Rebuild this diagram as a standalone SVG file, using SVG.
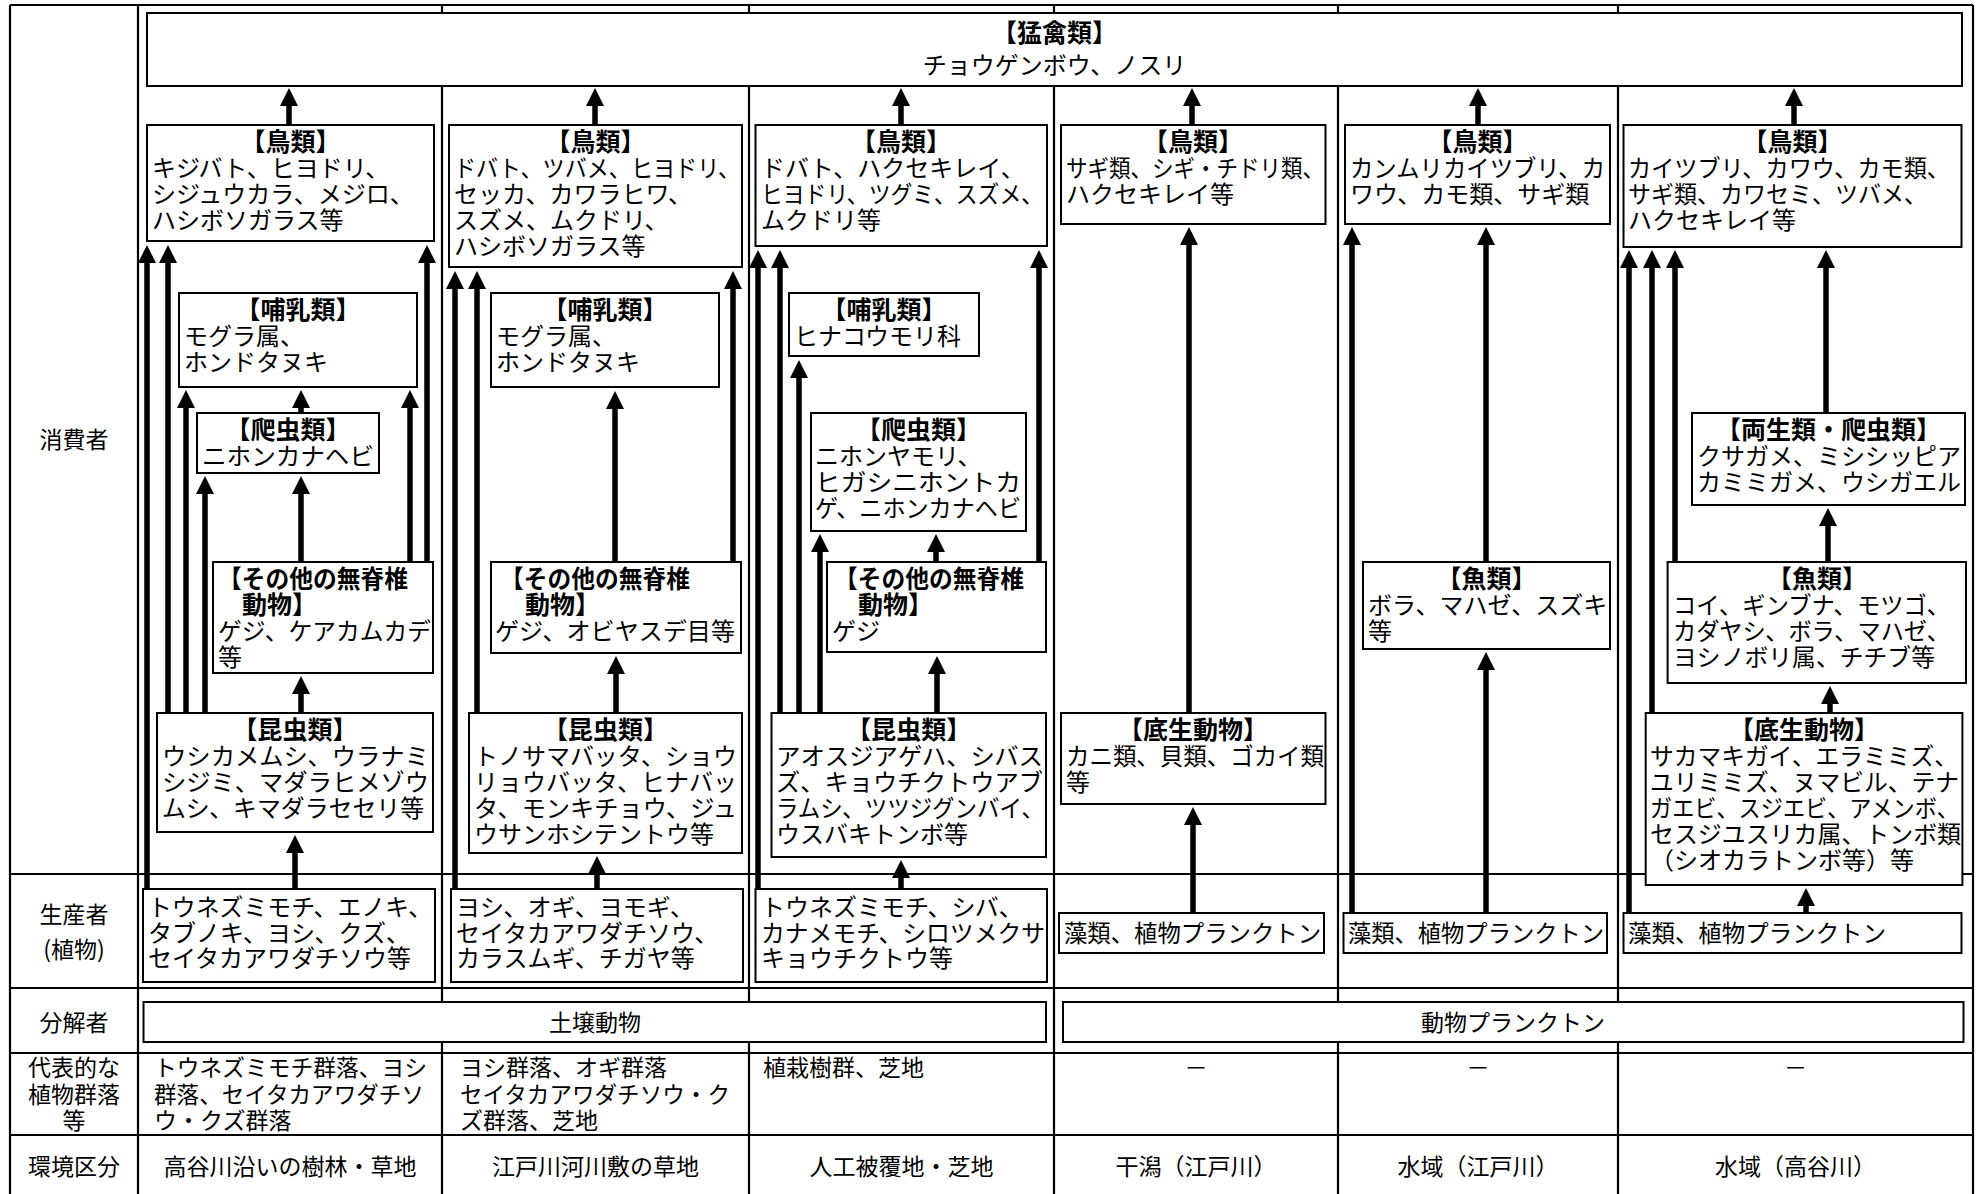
<svg xmlns="http://www.w3.org/2000/svg" width="1982" height="1194" viewBox="0 0 1982 1194">
<style>
.grid{stroke:#000;stroke-width:2.2;fill:none}
.box{fill:#fff;stroke:#000;stroke-width:2}
.t{font-family:"Noto Sans CJK JP","Noto Sans CJK SC",sans-serif;font-size:24px;fill:#000}
.s23{font-size:23px}
.h{font-weight:bold;font-size:25px;text-anchor:middle}
.hl{font-weight:bold;font-size:25px}
.c{text-anchor:middle}
.arr{stroke:#000;stroke-width:5.5;fill:none;marker-end:url(#ah)}
</style>
<defs>
<marker id="ah" markerUnits="userSpaceOnUse" markerWidth="18" markerHeight="18" viewBox="0 0 18 18" refX="0" refY="9" orient="auto"><path d="M0,0 L18,9 L0,18 z" fill="#000"/></marker>
</defs>
<rect width="1982" height="1194" fill="#fff"/>
<g id="grid">
<path class="grid" d="M10,5 V1194 M138,5 V1194 M442,5 V1194 M749,5 V1194 M1054,5 V1194 M1338,5 V1194 M1618,5 V1194 M1973,5 V1194"/>
<path class="grid" d="M10,5 H1973 M10,874 H1973 M10,988 H1973 M10,1053 H1973 M10,1135 H1973"/>
</g>
<g id="row-labels" class="t s23">
<text x="74" y="448" class="c">消費者</text>
<text x="74" y="923" class="c">生産者</text>
<text x="74" y="958" class="c">(植物)</text>
<text x="74" y="1031" class="c">分解者</text>
<text x="74" y="1076" class="c">代表的な</text>
<text x="74" y="1103" class="c">植物群落</text>
<text x="74" y="1129" class="c">等</text>
<text x="74" y="1175" class="c">環境区分</text>
</g>
<g id="raptors"><rect class="box" x="147" y="13" width="1815" height="73"/>
<text class="t h" x="1054.5" y="42">【猛禽類】</text>
<text class="t c" x="1054.5" y="74">チョウゲンボウ、ノスリ</text></g>
<!-- column 1 -->
<g id="c1-bird"><rect class="box" x="147" y="125" width="287" height="116"/>
<text class="t h" x="290.5" y="151">【鳥類】</text>
<text class="t" x="152" y="177">キジバト、ヒヨドリ、</text>
<text class="t" x="152" y="203">シジュウカラ、メジロ、</text>
<text class="t" x="152" y="229">ハシボソガラス等</text></g>
<g id="c1-mammal"><rect class="box" x="179" y="293" width="238" height="94"/>
<text class="t h" x="298" y="319">【哺乳類】</text>
<text class="t" x="184" y="345">モグラ属、</text>
<text class="t" x="184" y="371">ホンドタヌキ</text></g>
<g id="c1-reptile"><rect class="box" x="197" y="413" width="182" height="60"/>
<text class="t h" x="288" y="439">【爬虫類】</text>
<text class="t" x="202" y="465" textLength="172" lengthAdjust="spacingAndGlyphs">ニホンカナヘビ</text></g>
<g id="c1-invert"><rect class="box" x="213" y="562" width="220" height="111"/>
<text class="t hl" x="218" y="588" textLength="190" lengthAdjust="spacingAndGlyphs">【その他の無脊椎</text>
<text class="t hl" x="242" y="614">動物】</text>
<text class="t" x="218" y="640" textLength="213" lengthAdjust="spacingAndGlyphs">ゲジ、ケアカムカデ</text>
<text class="t" x="218" y="666">等</text></g>
<g id="c1-insect"><rect class="box" x="157" y="713" width="276" height="119"/>
<text class="t h" x="295" y="739">【昆虫類】</text>
<text class="t" x="162" y="765" textLength="267" lengthAdjust="spacingAndGlyphs">ウシカメムシ、ウラナミ</text>
<text class="t" x="162" y="791" textLength="267" lengthAdjust="spacingAndGlyphs">シジミ、マダラヒメゾウ</text>
<text class="t" x="162" y="817" textLength="262" lengthAdjust="spacingAndGlyphs">ムシ、キマダラセセリ等</text></g>
<g id="c1-producer"><rect class="box" x="143" y="889" width="292" height="93"/>
<text class="t" x="148" y="916" textLength="284" lengthAdjust="spacingAndGlyphs">トウネズミモチ、エノキ、</text>
<text class="t" x="148" y="942">タブノキ、ヨシ、クズ、</text>
<text class="t" x="148" y="967">セイタカアワダチソウ等</text></g>
<!-- column 2 -->
<g id="c2-bird"><rect class="box" x="449" y="125" width="293" height="142"/>
<text class="t h" x="595.5" y="151">【鳥類】</text>
<text class="t" x="454" y="177" textLength="286" lengthAdjust="spacingAndGlyphs">ドバト、ツバメ、ヒヨドリ、</text>
<text class="t" x="454" y="203">セッカ、カワラヒワ、</text>
<text class="t" x="454" y="229">スズメ、ムクドリ、</text>
<text class="t" x="454" y="255">ハシボソガラス等</text></g>
<g id="c2-mammal"><rect class="box" x="491" y="293" width="228" height="94"/>
<text class="t h" x="605" y="319">【哺乳類】</text>
<text class="t" x="496" y="345">モグラ属、</text>
<text class="t" x="496" y="371">ホンドタヌキ</text></g>
<g id="c2-invert"><rect class="box" x="491" y="562" width="250" height="91"/>
<text class="t hl" x="500" y="588" textLength="190" lengthAdjust="spacingAndGlyphs">【その他の無脊椎</text>
<text class="t hl" x="525" y="614">動物】</text>
<text class="t" x="495" y="640" textLength="240" lengthAdjust="spacingAndGlyphs">ゲジ、オビヤスデ目等</text></g>
<g id="c2-insect"><rect class="box" x="469" y="713" width="273" height="140"/>
<text class="t h" x="605.5" y="739">【昆虫類】</text>
<text class="t" x="474" y="765" textLength="263" lengthAdjust="spacingAndGlyphs">トノサマバッタ、ショウ</text>
<text class="t" x="474" y="791" textLength="263" lengthAdjust="spacingAndGlyphs">リョウバッタ、ヒナバッ</text>
<text class="t" x="474" y="817" textLength="263" lengthAdjust="spacingAndGlyphs">タ、モンキチョウ、ジュ</text>
<text class="t" x="474" y="843">ウサンホシテントウ等</text></g>
<g id="c2-producer"><rect class="box" x="451" y="889" width="292" height="93"/>
<text class="t" x="456" y="916">ヨシ、オギ、ヨモギ、</text>
<text class="t" x="456" y="942">セイタカアワダチソウ、</text>
<text class="t" x="456" y="967">カラスムギ、チガヤ等</text></g>
<!-- column 3 -->
<g id="c3-bird"><rect class="box" x="755.5" y="125" width="291.5" height="121"/>
<text class="t h" x="901" y="151">【鳥類】</text>
<text class="t" x="761" y="177">ドバト、ハクセキレイ、</text>
<text class="t" x="761" y="203" textLength="282" lengthAdjust="spacingAndGlyphs">ヒヨドリ、ツグミ、スズメ、</text>
<text class="t" x="761" y="229">ムクドリ等</text></g>
<g id="c3-mammal"><rect class="box" x="789" y="293" width="190" height="63"/>
<text class="t h" x="884" y="319">【哺乳類】</text>
<text class="t" x="794" y="345">ヒナコウモリ科</text></g>
<g id="c3-reptile"><rect class="box" x="811" y="413" width="215" height="118"/>
<text class="t h" x="918.5" y="439">【爬虫類】</text>
<text class="t" x="815" y="465">ニホンヤモリ、</text>
<text class="t" x="815" y="491" textLength="206" lengthAdjust="spacingAndGlyphs">ヒガシニホントカ</text>
<text class="t" x="815" y="517" textLength="206" lengthAdjust="spacingAndGlyphs">ゲ、ニホンカナヘビ</text></g>
<g id="c3-invert"><rect class="box" x="827" y="562" width="219" height="90"/>
<text class="t hl" x="834" y="588" textLength="190" lengthAdjust="spacingAndGlyphs">【その他の無脊椎</text>
<text class="t hl" x="858" y="614">動物】</text>
<text class="t" x="832" y="640">ゲジ</text></g>
<g id="c3-insect"><rect class="box" x="771.5" y="713" width="274.5" height="144"/>
<text class="t h" x="908.75" y="739">【昆虫類】</text>
<text class="t" x="776" y="765" textLength="267" lengthAdjust="spacingAndGlyphs">アオスジアゲハ、シバス</text>
<text class="t" x="776" y="791" textLength="267" lengthAdjust="spacingAndGlyphs">ズ、キョウチクトウアブ</text>
<text class="t" x="776" y="817" textLength="268" lengthAdjust="spacingAndGlyphs">ラムシ、ツツジグンバイ、</text>
<text class="t" x="776" y="843">ウスバキトンボ等</text></g>
<g id="c3-producer"><rect class="box" x="755.5" y="889" width="291.5" height="93"/>
<text class="t" x="761" y="916">トウネズミモチ、シバ、</text>
<text class="t" x="761" y="942" textLength="284" lengthAdjust="spacingAndGlyphs">カナメモチ、シロツメクサ</text>
<text class="t" x="761" y="967">キョウチクトウ等</text></g>
<!-- column 4 -->
<g id="c4-bird"><rect class="box" x="1061" y="125" width="264.5" height="99"/>
<text class="t h" x="1193" y="151">【鳥類】</text>
<text class="t" x="1066" y="177" textLength="258" lengthAdjust="spacingAndGlyphs">サギ類、シギ・チドリ類、</text>
<text class="t" x="1066" y="203">ハクセキレイ等</text></g>
<g id="c4-benthos"><rect class="box" x="1061" y="713" width="264.5" height="91"/>
<text class="t h" x="1193" y="739">【底生動物】</text>
<text class="t" x="1066" y="765" textLength="258" lengthAdjust="spacingAndGlyphs">カニ類、貝類、ゴカイ類</text>
<text class="t" x="1066" y="791">等</text></g>
<g id="c4-producer"><rect class="box" x="1059" y="913" width="265" height="40"/>
<text class="t" x="1064" y="942" textLength="257" lengthAdjust="spacingAndGlyphs">藻類、植物プランクトン</text></g>
<!-- column 5 -->
<g id="c5-bird"><rect class="box" x="1345" y="125" width="265" height="99"/>
<text class="t h" x="1477.5" y="151">【鳥類】</text>
<text class="t" x="1350" y="177" textLength="255" lengthAdjust="spacingAndGlyphs">カンムリカイツブリ、カ</text>
<text class="t" x="1350" y="203">ワウ、カモ類、サギ類</text></g>
<g id="c5-fish"><rect class="box" x="1363" y="562" width="247" height="87"/>
<text class="t h" x="1486.5" y="588">【魚類】</text>
<text class="t" x="1368" y="614">ボラ、マハゼ、スズキ</text>
<text class="t" x="1368" y="640">等</text></g>
<g id="c5-producer"><rect class="box" x="1343.5" y="913" width="263.5" height="40"/>
<text class="t" x="1348" y="942" textLength="256" lengthAdjust="spacingAndGlyphs">藻類、植物プランクトン</text></g>
<!-- column 6 -->
<g id="c6-bird"><rect class="box" x="1623.5" y="125" width="338" height="122"/>
<text class="t h" x="1792.5" y="151">【鳥類】</text>
<text class="t" x="1628" y="177" textLength="322" lengthAdjust="spacingAndGlyphs">カイツブリ、カワウ、カモ類、</text>
<text class="t" x="1628" y="203" textLength="299" lengthAdjust="spacingAndGlyphs">サギ類、カワセミ、ツバメ、</text>
<text class="t" x="1628" y="229">ハクセキレイ等</text></g>
<g id="c6-amphibian"><rect class="box" x="1692" y="413" width="273" height="92"/>
<text class="t h" x="1828.5" y="439">【両生類・爬虫類】</text>
<text class="t" x="1697" y="465" textLength="264" lengthAdjust="spacingAndGlyphs">クサガメ、ミシシッピア</text>
<text class="t" x="1697" y="491" textLength="264" lengthAdjust="spacingAndGlyphs">カミミガメ、ウシガエル</text></g>
<g id="c6-fish"><rect class="box" x="1667.6" y="562" width="298.4" height="121"/>
<text class="t h" x="1817" y="588">【魚類】</text>
<text class="t" x="1673" y="614" textLength="277" lengthAdjust="spacingAndGlyphs">コイ、ギンブナ、モツゴ、</text>
<text class="t" x="1673" y="640" textLength="277" lengthAdjust="spacingAndGlyphs">カダヤシ、ボラ、マハゼ、</text>
<text class="t" x="1673" y="666" textLength="262" lengthAdjust="spacingAndGlyphs">ヨシノボリ属、チチブ等</text></g>
<g id="c6-benthos"><rect class="box" x="1645.7" y="713" width="316.7" height="172"/>
<text class="t h" x="1804" y="739">【底生動物】</text>
<text class="t" x="1650" y="765" textLength="308" lengthAdjust="spacingAndGlyphs">サカマキガイ、エラミミズ、</text>
<text class="t" x="1650" y="791" textLength="309" lengthAdjust="spacingAndGlyphs">ユリミミズ、ヌマビル、テナ</text>
<text class="t" x="1650" y="817" textLength="309" lengthAdjust="spacingAndGlyphs">ガエビ、スジエビ、アメンボ、</text>
<text class="t" x="1650" y="843" textLength="311" lengthAdjust="spacingAndGlyphs">セスジユスリカ属、トンボ類</text>
<text class="t" x="1650" y="869">（シオカラトンボ等）等</text></g>
<g id="c6-producer"><rect class="box" x="1623.5" y="913" width="338" height="40"/>
<text class="t" x="1628" y="942" textLength="258" lengthAdjust="spacingAndGlyphs">藻類、植物プランクトン</text></g>
<!-- decomposers -->
<g id="soil-animals"><rect class="box" x="143.5" y="1002" width="902.5" height="40"/>
<text class="t c s23" x="595" y="1031">土壌動物</text></g>
<g id="zooplankton"><rect class="box" x="1063" y="1002" width="900.5" height="40"/>
<text class="t c s23" x="1513" y="1031">動物プランクトン</text></g>
<!-- plant communities -->
<g id="communities" class="t s23">
<text x="154" y="1076" textLength="273" lengthAdjust="spacingAndGlyphs">トウネズミモチ群落、ヨシ</text>
<text x="154" y="1103" textLength="270" lengthAdjust="spacingAndGlyphs">群落、セイタカアワダチソ</text>
<text x="154" y="1129">ウ・クズ群落</text>
<text x="460" y="1076">ヨシ群落、オギ群落</text>
<text x="460" y="1103" textLength="270" lengthAdjust="spacingAndGlyphs">セイタカアワダチソウ・ク</text>
<text x="460" y="1129">ズ群落、芝地</text>
<text x="763" y="1076">植栽樹群、芝地</text>
<text x="1196" y="1076" class="c">－</text>
<text x="1478" y="1076" class="c">－</text>
<text x="1795.5" y="1076" class="c">－</text>
</g>
<g id="environments" class="t s23">
<text x="290" y="1175" class="c">高谷川沿いの樹林・草地</text>
<text x="595.5" y="1175" class="c">江戸川河川敷の草地</text>
<text x="901.5" y="1175" class="c">人工被覆地・芝地</text>
<text x="1196" y="1175" class="c">干潟（江戸川）</text>
<text x="1478" y="1175" class="c">水域（江戸川）</text>
<text x="1795.5" y="1175" class="c">水域（高谷川）</text>
</g>
<g id="connectors">
<path class="arr" d="M289,125 V106"/>
<path class="arr" d="M147,889 V263"/>
<path class="arr" d="M168,713 V263"/>
<path class="arr" d="M427,562 V263"/>
<path class="arr" d="M186,713 V408"/>
<path class="arr" d="M301,413 V408"/>
<path class="arr" d="M410,562 V408"/>
<path class="arr" d="M205,713 V494"/>
<path class="arr" d="M301,562 V494"/>
<path class="arr" d="M301,713 V694"/>
<path class="arr" d="M295,889 V853"/>
<path class="arr" d="M595,125 V106"/>
<path class="arr" d="M455,889 V289"/>
<path class="arr" d="M477,713 V289"/>
<path class="arr" d="M733,562 V289"/>
<path class="arr" d="M615,562 V409"/>
<path class="arr" d="M616,713 V674"/>
<path class="arr" d="M597,889 V874"/>
<path class="arr" d="M901,125 V106"/>
<path class="arr" d="M758,889 V268"/>
<path class="arr" d="M780,713 V268"/>
<path class="arr" d="M1039,562 V268"/>
<path class="arr" d="M799,713 V378"/>
<path class="arr" d="M820,713 V552"/>
<path class="arr" d="M936,562 V552"/>
<path class="arr" d="M937,713 V674"/>
<path class="arr" d="M901,889 V878"/>
<path class="arr" d="M1192,125 V106"/>
<path class="arr" d="M1189,713 V245"/>
<path class="arr" d="M1193,913 V825"/>
<path class="arr" d="M1478,125 V106"/>
<path class="arr" d="M1352,913 V245"/>
<path class="arr" d="M1486,562 V245"/>
<path class="arr" d="M1486,913 V670"/>
<path class="arr" d="M1794,125 V106"/>
<path class="arr" d="M1629,913 V268"/>
<path class="arr" d="M1652,713 V268"/>
<path class="arr" d="M1675,562 V268"/>
<path class="arr" d="M1826,413 V268"/>
<path class="arr" d="M1828,562 V526"/>
<path class="arr" d="M1830,713 V704"/>
<path class="arr" d="M1806,913 V906"/>
</g>
</svg>
